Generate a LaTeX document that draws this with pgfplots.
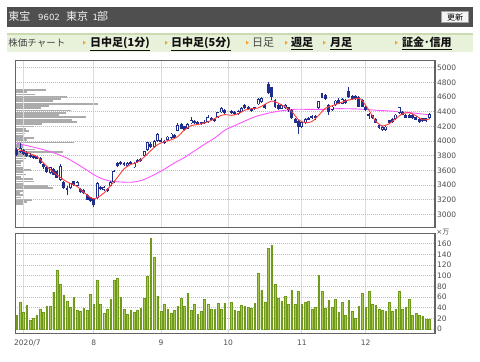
\documentclass[border=0pt]{standalone}
\usepackage{fontspec}
\setmainfont{DejaVu Sans}
\newfontfamily\cjk{Noto Sans CJK JP}
\usepackage{pgfplots}
\usepackage{pgfplotstable}
\pgfplotsset{compat=1.18}
\definecolor{frame}{HTML}{646464}
\definecolor{vgrid}{HTML}{DCDCDC}
\definecolor{hgrid}{HTML}{BDBDBD}
\definecolor{lab}{HTML}{505050}
\definecolor{navy}{HTML}{1F2E8C}
\definecolor{maline}{HTML}{FF3B3B}
\definecolor{pinkline}{HTML}{FF55FF}
\definecolor{volfill}{HTML}{A3C94A}
\definecolor{voledge}{HTML}{6F9A1E}
\definecolor{prof}{HTML}{ABABAB}
\definecolor{hdr}{HTML}{4F4F4F}
\definecolor{hdrtext}{HTML}{F2F2F2}
\definecolor{menu}{HTML}{E8F1DA}
\definecolor{menuedge}{HTML}{CADBB2}
\definecolor{arrowc}{HTML}{F2A428}
\definecolor{linkc}{HTML}{111111}
\definecolor{plainc}{HTML}{444444}
\definecolor{btn}{HTML}{F4F4F4}
\definecolor{btnedge}{HTML}{A0A0A0}

\pgfplotstableread{
s O H L C
0 3885 3900 3800 3815
2 3880 3890 3810 3820
3 3840 3860 3780 3790
4 3810 3830 3770 3780
5 3800 3815 3760 3770
6 3790 3800 3750 3760
7 3770 3780 3690 3700
8 3680 3700 3620 3640
9 3640 3660 3570 3580
11 3620 3630 3530 3540
12 3590 3600 3490 3500
14 3440 3460 3350 3360
15 3360 3380 3260 3330
17 3450 3460 3390 3400
19 3350 3360 3290 3300
20 3330 3340 3280 3290
21 3260 3280 3190 3200
22 3230 3240 3170 3180
23 3210 3220 3100 3130
25 3370 3390 3330 3340
27 3350 3360 3310 3320
30 3700 3720 3640 3660
31 3710 3730 3670 3680
32 3700 3710 3660 3670
34 3720 3730 3680 3690
36 3740 3750 3700 3710
37 3760 3770 3720 3730
40 3960 3980 3910 3920
43 4020 4040 3980 3990
44 4000 4010 3965 3975
47 4080 4090 4030 4040
49 4230 4250 4160 4170
50 4200 4210 4140 4150
53 4270 4280 4230 4240
54 4260 4270 4220 4230
55 4255 4265 4220 4230
56 4265 4280 4230 4240
58 4320 4330 4280 4290
59 4300 4310 4260 4270
62 4420 4430 4370 4380
64 4410 4420 4370 4380
65 4400 4410 4360 4370
68 4490 4500 4440 4450
69 4470 4480 4420 4430
70 4440 4450 4400 4410
71 4460 4470 4420 4430
74 4490 4500 4440 4450
75 4780 4800 4640 4650
76 4730 4740 4560 4600
77 4560 4570 4450 4460
78 4490 4500 4420 4440
81 4460 4470 4400 4420
82 4420 4430 4300 4310
83 4300 4320 4240 4250
84 4270 4280 4100 4190
87 4320 4330 4280 4290
88 4340 4350 4300 4310
89 4340 4350 4290 4310
91 4650 4660 4580 4590
92 4630 4640 4560 4570
93 4490 4500 4360 4400
96 4560 4580 4500 4510
98 4560 4570 4510 4520
99 4680 4740 4590 4600
100 4620 4630 4560 4570
101 4610 4630 4560 4570
102 4600 4610 4460 4470
103 4560 4570 4460 4470
104 4470 4480 4410 4420
105 4370 4380 4300 4340
106 4350 4360 4300 4310
107 4300 4310 4240 4250
108 4220 4230 4170 4180
111 4280 4290 4230 4240
112 4300 4310 4250 4260
115 4400 4410 4350 4360
116 4360 4370 4310 4320
117 4360 4370 4310 4320
118 4360 4370 4300 4310
119 4330 4340 4280 4290
120 4300 4310 4250 4260
121 4310 4320 4260 4270
}\down

\pgfplotstableread{
s O H L C
1 3850 3970 3840 3900
10 3560 3650 3550 3640
13 3470 3680 3460 3660
16 3360 3430 3340 3420
18 3390 3450 3380 3440
24 3220 3440 3210 3420
26 3330 3380 3320 3370
28 3390 3450 3380 3440
29 3440 3600 3430 3590
33 3660 3720 3650 3700
35 3640 3710 3630 3700
38 3800 3870 3790 3860
39 3880 3990 3870 3980
41 3920 4010 3910 4000
42 4000 4110 3990 4090
45 4010 4070 4000 4060
46 4040 4110 4030 4100
48 4140 4240 4130 4220
51 4170 4240 4160 4230
52 4240 4330 4230 4290
57 4260 4350 4250 4330
60 4330 4400 4320 4390
61 4390 4470 4380 4450
66 4370 4420 4360 4410
67 4400 4460 4390 4450
72 4500 4580 4490 4570
73 4530 4600 4520 4590
79 4440 4500 4430 4490
80 4450 4510 4440 4490
85 4190 4270 4180 4260
86 4240 4310 4230 4300
90 4450 4550 4440 4540
94 4420 4480 4410 4470
95 4490 4560 4480 4550
97 4510 4580 4500 4570
109 4150 4200 4140 4190
110 4150 4200 4130 4195
113 4300 4370 4290 4360
114 4380 4470 4370 4460
122 4270 4320 4260 4310
123 4310 4380 4300 4370
}\up

\pgfplotsset{
  chartbase/.style={
    scale only axis, width=419.7bp, anchor=south west,
    xmin=-0.41, xmax=124.69,
    axis line style={draw=frame, line width=1.4bp},
    major tick length=0pt, tick style={draw=none},
    xtick={2,23,43,63,85,104},
    xmajorgrids, ymajorgrids,
    x grid style={draw=vgrid, line width=0.8bp},
    y grid style={draw=hgrid, line width=0.6bp, dash pattern=on 1bp off 1bp},
    yticklabel pos=right,
    yticklabel style={font=\fontsize{7.5bp}{8bp}\selectfont, text=lab, anchor=west, inner sep=0pt, xshift=1.8bp},
    /pgf/number format/1000 sep={},
    /pgf/number format/assume math mode=true,
  }
}

\newcommand\marrow[1]{\fill[arrowc] (#1bp,-40.7bp) -- ++(2.8bp,-2bp) -- ++(-2.8bp,-2bp) -- cycle;}

\begin{document}
\begin{tikzpicture}
\path[use as bounding box, fill=white] (0,0) rectangle (480bp,-362bp);
% header
\fill[hdr] (6.7bp,-6.7bp) rectangle (473bp,-26.7bp);
\node[anchor=base west, inner sep=0, text=hdrtext, font=\cjk\fontsize{11bp}{12bp}\selectfont] at (8.3bp,-20.6bp) {東宝};
\node[anchor=base west, inner sep=0, text=hdrtext, font=\fontsize{8.5bp}{9bp}\selectfont] at (38bp,-20.6bp) {9602};
\node[anchor=base west, inner sep=0, text=hdrtext, font=\cjk\fontsize{11bp}{12bp}\selectfont] at (66bp,-20.6bp) {東京};
\node[anchor=base west, inner sep=0, text=hdrtext, font=\fontsize{8.5bp}{9bp}\selectfont] at (92.3bp,-20.6bp) {1};
\node[anchor=base west, inner sep=0, text=hdrtext, font=\cjk\fontsize{11bp}{12bp}\selectfont] at (97bp,-20.6bp) {部};
\draw[fill=btn, draw=btnedge, line width=0.6bp] (441.7bp,-11.7bp) rectangle (468.3bp,-22.7bp);
\node[inner sep=0, text=black, font=\cjk\fontsize{8bp}{9bp}\selectfont] at (455bp,-17.2bp) {更新};
% menu
\fill[menu] (6.7bp,-33.3bp) rectangle (473bp,-52bp);
\draw[menuedge, line width=1.2bp] (6.7bp,-33.9bp) -- (473bp,-33.9bp);
\node[anchor=base west, inner sep=0, text=plainc, font=\cjk\fontsize{9.5bp}{10bp}\selectfont] at (8.3bp,-46.8bp) {株価チャート};
\marrow{83}
\node[anchor=base west, inner sep=0, text=linkc, font=\cjk\bfseries\fontsize{11bp}{12bp}\selectfont] at (90bp,-46.8bp) {\underline{日中足(1分)}};
\marrow{165}
\node[anchor=base west, inner sep=0, text=linkc, font=\cjk\bfseries\fontsize{11bp}{12bp}\selectfont] at (171bp,-46.8bp) {\underline{日中足(5分)}};
\marrow{246}
\node[anchor=base west, inner sep=0, text=plainc, font=\cjk\fontsize{11bp}{12bp}\selectfont] at (252bp,-46.8bp) {日足};
\marrow{285}
\node[anchor=base west, inner sep=0, text=linkc, font=\cjk\bfseries\fontsize{11bp}{12bp}\selectfont] at (291bp,-46.8bp) {\underline{週足}};
\marrow{323}
\node[anchor=base west, inner sep=0, text=linkc, font=\cjk\bfseries\fontsize{11bp}{12bp}\selectfont] at (330bp,-46.8bp) {\underline{月足}};
\marrow{395}
\node[anchor=base west, inner sep=0, text=linkc, font=\cjk\bfseries\fontsize{11bp}{12bp}\selectfont] at (402bp,-46.8bp) {\underline{証金･信用}};

% volume-by-price profile
\begin{axis}[scale only axis, width=419.7bp, height=167bp, anchor=south west, at={(15.3bp,-227.7bp)},
  xmin=0, xmax=419.7, ymin=2817, ymax=5095, axis lines=none, ticks=none]
\addplot[xcomb, draw=prof, line width=1.8bp] coordinates {
(9,3136)(12,3167)(16.7,3198)(6,3230)(7.3,3261)(5,3292)(9,3323)(37.3,3354)(32.3,3386)(9,3417)
(19,3448)(17.3,3479)(6,3510)(10.7,3542)(7.3,3573)(15.7,3604)(8,3635)(5.7,3666)(6,3698)(7.3,3729)
(10.7,3760)(17.3,3791)(12,3822)(47.3,3854)(20,3885)(8,3916)(9,3947)(59,3978)(12,4010)(19,4041)
(7.3,4072)(10,4103)(14,4134)(10.7,4166)(19,4197)(27,4228)(62,4260)(57,4291)(70.7,4322)(44,4353)
(50.7,4384)(55.7,4416)(25.7,4447)(34,4478)(83,4509)(38,4540)(45.7,4572)(52,4603)(20,4634)(12,4665)(30.7,4696)
};
\end{axis}

% price chart
\begin{axis}[chartbase, height=167bp, at={(15.3bp,-227.7bp)},
  ymin=2817, ymax=5095, ytick={3000,3200,...,5000}, xticklabels={}]
\addplot[pinkline, line width=0.9bp, smooth] coordinates {
(0,3969)(5,3915)(10,3855)(15,3765)(20,3630)(23,3540)(26,3475)(29,3448)(32,3438)(35,3440)
(38,3475)(41,3540)(44,3615)(47,3700)(50,3775)(53,3865)(56,3955)(59,4040)(62,4145)(65,4210)
(68,4272)(71,4330)(74,4368)(77,4398)(80,4418)(83,4432)(86,4432)(89,4430)(92,4432)(95,4440)
(98,4440)(101,4437)(104,4430)(107,4420)(110,4412)(113,4403)(116,4393)(119,4378)(122,4362)(123,4355)
};
% wicks
\addplot[draw=none, mark=none, error bars/.cd, y dir=plus, y explicit, error mark=none,
  error bar style={draw=navy, line width=0.8bp}]
  table[x=s, y=L, y error expr=\thisrow{H}-\thisrow{L}] {\down};
\addplot[draw=none, mark=none, error bars/.cd, y dir=plus, y explicit, error mark=none,
  error bar style={draw=navy, line width=0.8bp}]
  table[x=s, y=L, y error expr=\thisrow{H}-\thisrow{L}] {\up};
% bodies
\addplot[draw=none, mark=none, error bars/.cd, y dir=plus, y explicit, error mark=none,
  error bar style={draw=navy, line width=2.9bp}]
  table[x=s, y=C, y error expr=\thisrow{O}-\thisrow{C}] {\down};
\addplot[draw=none, mark=none, error bars/.cd, y dir=plus, y explicit, error mark=none,
  error bar style={draw=navy, line width=3.0bp}]
  table[x=s, y=O, y error expr=\thisrow{C}-\thisrow{O}] {\up};
\addplot[draw=none, mark=none, error bars/.cd, y dir=plus, y explicit, error mark=none,
  error bar style={draw=white, line width=1.3bp}]
  table[x=s, y expr=\thisrow{O}+11, y error expr=\thisrow{C}-\thisrow{O}-22] {\up};
\addplot[maline, line width=0.9bp, smooth] coordinates {
(0,3887)(2,3862)(4,3825)(6,3790)(8,3700)(10,3610)(12,3540)(14,3470)(16,3420)(18,3380)
(20,3300)(22,3230)(23,3210)(24,3225)(26,3290)(28,3390)(30,3500)(32,3620)(34,3680)(36,3710)
(38,3780)(40,3870)(42,3950)(44,3990)(46,4015)(48,4060)(50,4150)(52,4210)(54,4225)(56,4245)
(58,4280)(60,4330)(62,4360)(64,4350)(66,4370)(68,4420)(70,4440)(72,4450)(74,4500)(76,4545)
(78,4515)(80,4465)(82,4400)(84,4290)(86,4250)(88,4265)(90,4350)(92,4446)(94,4480)(96,4514)
(98,4545)(100,4570)(102,4582)(103,4550)(105,4420)(107,4270)(109,4205)(111,4235)(113,4305)
(115,4370)(117,4385)(119,4345)(121,4290)(123,4300)
};
\end{axis}

% volume chart
\begin{axis}[chartbase, height=100.4bp, at={(15.3bp,-333.7bp)},
  ymin=-8.8, ymax=179.6, ytick={0,20,...,160},
  xticklabels={\hspace*{8bp}2020/7,8,9,10,11,12},
  xticklabel style={font=\fontsize{7.5bp}{8bp}\selectfont, text=lab, anchor=base, inner sep=0pt, yshift=-12bp}]
\addplot[ybar, bar width=0.5, fill=volfill, draw=voledge, line width=0.45bp] coordinates {
(0,26)(1,50.6)(2,31)(3,44)(4,16)(5,21)(6,26)(7,37)(8,32)(9,42)
(10,42)(11,69)(12,111)(13,84)(14,64)(15,52)(16,40)(17,60)(18,36)(19,34)
(20,39)(21,36)(22,65)(23,46)(24,92)(25,46)(26,29)(27,38)(28,56)(29,91)
(30,95)(31,60)(32,37.5)(33,27)(34,36)(35,32)(36,36)(37,39)(38,57)(39,99)
(40,170)(41,134)(42,62)(43,32.5)(44,47)(45,37.5)(46,29)(47,36)(48,43)(49,57)
(50,42)(51,67.5)(52,36)(53,47)(54,27.5)(55,33)(56,56)(57,47)(58,37)(59,37)
(60,48)(61,37.5)(62,47.5)(64,50.6)(65,36)(66,33)(67,45)(68,43)(69,40.6)
(70,39)(71,48)(72,104)(73,72)(74,51)(75,151)(76,157.5)(77,84)(78,58)(79,52.5)
(80,62)(81,46)(82,72.5)(83,45.6)(84,71)(85,45.6)(86,50.6)(87,53)(88,38)(89,40)
(90,100)(91,71)(92,39)(93,54)(94,40.6)(95,55)(96,32)(97,50)(98,25)(99,54)
(100,34)(101,20)(102,43)(103,67)(104,40)(105,71)(106,47)(107,45)(108,38)(109,35)
(110,33)(111,50.6)(112,34)(113,37.5)(114,70)(115,38)(116,40)(117,55)(118,26)(119,29)
(120,25)(121,24)(122,17.5)(123,17.5)
};
\end{axis}
\node[anchor=west, inner sep=0, text=lab, font=\fontsize{7bp}{8bp}\selectfont] at (436.2bp,-232bp) {×{\cjk 万}};
\end{tikzpicture}
\end{document}
